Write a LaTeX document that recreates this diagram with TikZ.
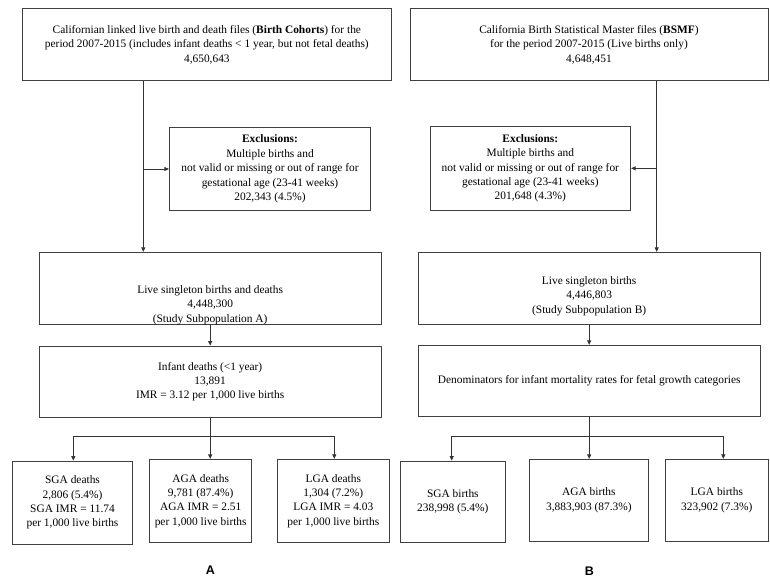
\documentclass[tikz,border=0pt]{standalone}
\usepackage{fontspec}
\setmainfont{Liberation Serif}
\newfontfamily\labelfont{Liberation Sans}
\usetikzlibrary{arrows.meta}
\tikzset{
  box/.style={draw=black!75, line width=0.8pt, inner sep=0pt, align=center},
  txt/.style={inner sep=0pt, align=center, font=\fontsize{11.4}{14.4}\selectfont},
  arr/.style={draw=black!80, line width=0.8pt, -{Triangle[length=4.5pt,width=4pt]}},
  panel/.style={inner sep=0pt, font=\labelfont\bfseries\fontsize{12.5}{14}\selectfont}
}
\begin{document}
\begin{tikzpicture}[x=1pt,y=-1pt]
\useasboundingbox (0,0) rectangle (770,578);
% top boxes
\node[box, txt, minimum width=368.3pt, minimum height=72.4pt] (a1) at (206.85,44.5)
  {Californian linked live birth and death files (\textbf{Birth Cohorts}) for the\\
   period 2007-2015 (includes infant deaths < 1 year, but not fetal deaths)\\
   4,650,643};
\node[box, txt, minimum width=358pt, minimum height=72.4pt] (b1) at (589,44.5)
  {California Birth Statistical Master files (\textbf{BSMF})\\
   for the period 2007-2015 (Live births only)\\
   4,648,451};
% exclusions
\node[box, txt, minimum width=201.4pt, minimum height=83.4pt] (exa) at (270,169)
  {\textbf{Exclusions:}\\Multiple births and\\not valid or missing or out of range for\\gestational age (23-41 weeks)\\202,343 (4.5\%)};
\node[box, txt, minimum width=200.7pt, minimum height=83.3pt] (exb) at (530.35,168.35)
  {\textbf{Exclusions:}\\Multiple births and\\not valid or missing or out of range for\\gestational age (23-41 weeks)\\201,648 (4.3\%)};
% subpopulations
\node[box, minimum width=341.7pt, minimum height=72pt] (a2) at (210.15,288.3) {};
\node[txt] (a2t) at (210.15,305) {Live singleton births and deaths\\4,448,300\\(Study Subpopulation A)};
\node[box, minimum width=341.7pt, minimum height=72pt] (b2) at (589.15,288.3) {};
\node[txt] (b2t) at (589.15,296) {Live singleton births\\4,446,803\\(Study Subpopulation B)};
% third row
\node[box, txt, minimum width=341.7pt, minimum height=71.3pt] (a3) at (210.15,381.65)
  {Infant deaths (<1 year)\\13,891\\IMR = 3.12 per 1,000 live births};
\node[box, txt, minimum width=341.7pt, minimum height=71.4pt] (b3) at (589.15,381)
  {Denominators for infant mortality rates for fetal growth categories};
% bottom boxes A
\node[box, txt, minimum width=119.6pt, minimum height=83pt] (sgad) at (72.5,502.5)
  {SGA deaths\\2,806 (5.4\%)\\SGA IMR = 11.74\\per 1,000 live births};
\node[box, txt, minimum width=102pt, minimum height=83.4pt] (agad) at (200.7,501)
  {AGA deaths\\9,781 (87.4\%)\\AGA IMR = 2.51\\per 1,000 live births};
\node[box, txt, minimum width=112pt, minimum height=83.4pt] (lgad) at (333.3,501)
  {LGA deaths\\1,304 (7.2\%)\\LGA IMR = 4.03\\per 1,000 live births};
% bottom boxes B
\node[box, txt, minimum width=104.3pt, minimum height=81.7pt] (sgab) at (452.85,501.85)
  {SGA births\\238,998 (5.4\%)};
\node[box, txt, minimum width=119.7pt, minimum height=81.7pt] (agab) at (588.85,500.15)
  {AGA births\\3,883,903 (87.3\%)};
\node[box, txt, minimum width=102.3pt, minimum height=81.7pt] (lgab) at (716.85,500.15)
  {LGA births\\323,902 (7.3\%)};
% panel labels
\node[panel] (pa) at (210.3,570) {A};
\node[panel] (pb) at (589.5,571.3) {B};
% helper coordinates
\coordinate (xa) at (143.3,0);
\coordinate (xb) at (656.7,0);
\coordinate (ha) at (0,436.7);
\coordinate (sa) at (73.3,0);
\coordinate (la) at (334.3,0);
\coordinate (sb) at (451.7,0);
\coordinate (lb) at (723.3,0);
% connectors A
\draw[arr] (xa |- a1.south) -- (xa |- a2.north);
\draw[arr] (xa |- exa.west) -- (exa.west);
\draw[arr] (a2.south) -- (a3.north);
\draw[arr] (a3.south) -- (a3.south |- agad.north);
\draw[arr] (a3.south |- ha) -| (sa |- sgad.north);
\draw[arr] (a3.south |- ha) -| (la |- lgad.north);
% connectors B
\draw[arr] (xb |- b1.south) -- (xb |- b2.north);
\draw[arr] (xb |- exb.east) -- (exb.east);
\draw[arr] (b2.south) -- (b3.north);
\draw[arr] (b3.south) -- (b3.south |- agab.north);
\draw[arr] (b3.south |- ha) -| (sb |- sgab.north);
\draw[arr] (b3.south |- ha) -| (lb |- lgab.north);
\end{tikzpicture}
\end{document}
